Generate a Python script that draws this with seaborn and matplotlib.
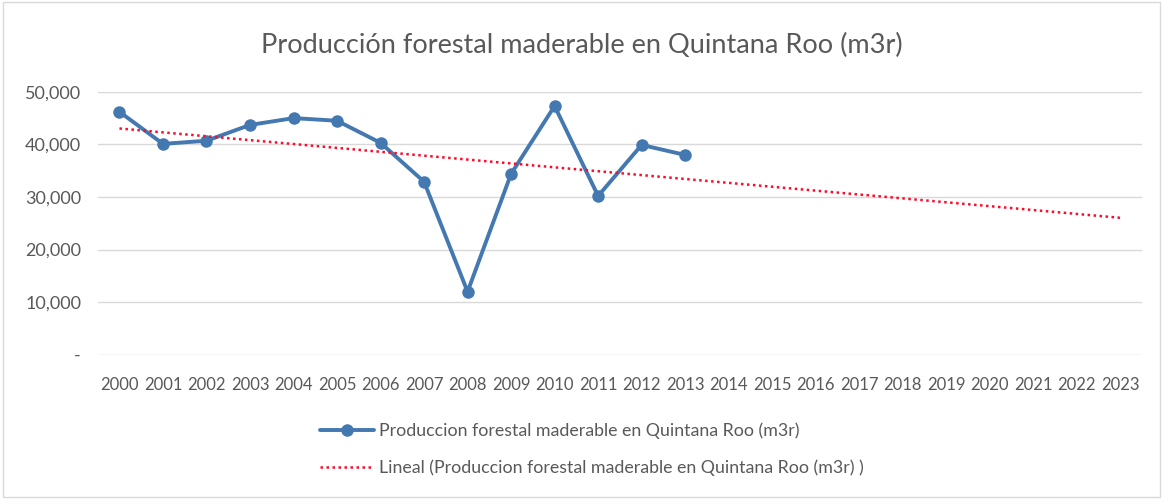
import numpy as np
import pandas as pd
import matplotlib
matplotlib.use('Agg')
import matplotlib.pyplot as plt
import seaborn as sns
from matplotlib.ticker import FuncFormatter
from matplotlib.patches import Rectangle

# Data
years_data = [2000, 2001, 2002, 2003, 2004, 2005, 2006, 2007, 2008, 2009, 2010, 2011, 2012, 2013]
produccion = [46200, 40100, 40700, 43700, 45000, 44500, 40300, 32900, 12000, 34400, 47300, 30200, 39900, 38000]
years_axis = list(range(2000, 2024))

serie_label = 'Produccion forestal maderable en Quintana Roo (m3r)'
trend_label = 'Lineal (Produccion forestal maderable en Quintana Roo (m3r) )'
title = 'Producción forestal maderable en Quintana Roo (m3r)'

df = pd.DataFrame({'year': years_data, 'value': produccion})

# Linear trend (Excel "Lineal") extended to 2023
coef = np.polyfit(df['year'], df['value'], 1)
trend = pd.DataFrame({'year': years_axis, 'value': np.polyval(coef, years_axis)})

sns.set_style('white')
plt.rcParams['font.family'] = ['Lato', 'DejaVu Sans']

fig = plt.figure(figsize=(11.63, 4.99), dpi=100)
ax = fig.add_axes([0.084, 0.289, 0.898, 0.527])

sns.lineplot(data=df, x='year', y='value', ax=ax, color='#4478b0', linewidth=2.8,
             marker='o', markersize=9, markeredgewidth=0, label=serie_label)
sns.lineplot(data=trend, x='year', y='value', ax=ax, color='#ff0a2a', linewidth=1.8,
             linestyle=(0, (1, 1.4)), label=trend_label)

ax.set_xlim(years_axis[0] - 0.5, years_axis[-1] + 0.5)
ax.set_ylim(0, 50000)
ax.set_xticks(years_axis)
ax.set_xticklabels([str(y) for y in years_axis])
ax.set_yticks(range(0, 50001, 10000))
ax.yaxis.set_major_formatter(FuncFormatter(lambda v, p: '-' if v == 0 else f'{int(v):,}'))
ax.grid(axis='y', color='#d9d9d9', linewidth=1)
ax.set_axisbelow(True)
for s in ax.spines.values():
    s.set_visible(False)
ax.tick_params(axis='x', length=0, labelsize=12, labelcolor='#595959', pad=16)
ax.tick_params(axis='y', length=0, labelsize=13, labelcolor='#595959', pad=12)
ax.set_xlabel('')
ax.set_ylabel('')

fig.suptitle(title, y=0.935, fontsize=19.5, color='#595959')

handles, labels = ax.get_legend_handles_labels()
ax.legend_.remove()
fig.legend(handles, labels, loc='center', bbox_to_anchor=(0.509, 0.1), ncol=1,
           frameon=False, fontsize=12.8, labelcolor='#595959', handlelength=3.0,
           handletextpad=0.3, labelspacing=1.15)

fig.patches.append(Rectangle((0.003, 0.005), 0.994, 0.99, transform=fig.transFigure,
                             fill=False, edgecolor='#d9d9d9', linewidth=1))

fig.savefig('out.png', dpi=100)
